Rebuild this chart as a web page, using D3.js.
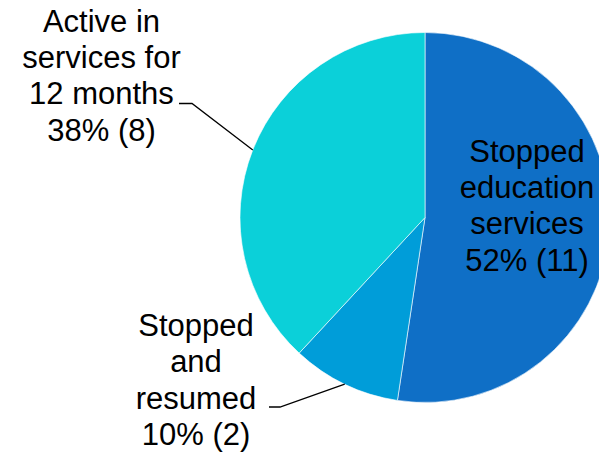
<!DOCTYPE html>
<html>
<head>
<meta charset="utf-8">
<script src="https://cdn.jsdelivr.net/npm/d3@7"></script>
<style>
  html, body { margin: 0; padding: 0; background: #fff; }
  svg { display: block; }
</style>
</head>
<body>
<svg id="chart" width="599" height="452"></svg>
<script>
// Data
const categories = ["Stopped education services", "Stopped and resumed", "Active in services for 12 months"];
const values = [11, 2, 8];
const percents = ["52%", "10%", "38%"];
const labelLines = [
  ["Stopped", "education", "services"],
  ["Stopped", "and", "resumed"],
  ["Active in", "services for", "12 months"]
];
const colors = ["#0F6FC6", "#009DD9", "#0BD0D9"];

const svg = d3.select("#chart");
const cx = 425, cy = 217.5, R = 185;

const pie = d3.pie().sort(null).value(d => d)(values);
const arc = d3.arc().innerRadius(0).outerRadius(R);

const g = svg.append("g").attr("transform", `translate(${cx},${cy})`);
g.selectAll("path.slice")
  .data(pie)
  .join("path")
  .attr("class", "slice")
  .attr("d", arc)
  .attr("fill", (d, i) => colors[i])
  .attr("stroke", "#ffffff")
  .attr("stroke-width", 0.6);

// Label layout (positions in code, not data)
const font = "'Liberation Sans', Arial, sans-serif";
const fontSize = 31;
const lineH = 36.4;
const layout = [
  { x: 527, y0: 161.5, leader: null },
  { x: 196, y0: 336, leader: { hx0: 269, hx1: 280, hy: 407 } },
  { x: 101.5, y0: 31.5, leader: { hx0: 179, hx1: 192, hy: 103.5 } }
];

pie.forEach((d, i) => {
  const L = layout[i];
  const lines = labelLines[i].concat([`${percents[i]} (${values[i]})`]);
  const t = svg.append("text")
    .attr("font-family", font)
    .attr("font-size", fontSize)
    .attr("fill", "#000")
    .attr("text-anchor", "middle");
  lines.forEach((ln, k) => {
    t.append("tspan").attr("x", L.x).attr("y", L.y0 + k * lineH).text(ln);
  });
  if (L.leader) {
    const mid = (d.startAngle + d.endAngle) / 2;
    const ex = cx + R * Math.sin(mid);
    const ey = cy - R * Math.cos(mid);
    svg.append("path")
      .attr("d", `M${L.leader.hx0},${L.leader.hy}L${L.leader.hx1},${L.leader.hy}L${ex},${ey}`)
      .attr("fill", "none")
      .attr("stroke", "#000")
      .attr("stroke-width", 1.3);
  }
});
</script>
</body>
</html>
